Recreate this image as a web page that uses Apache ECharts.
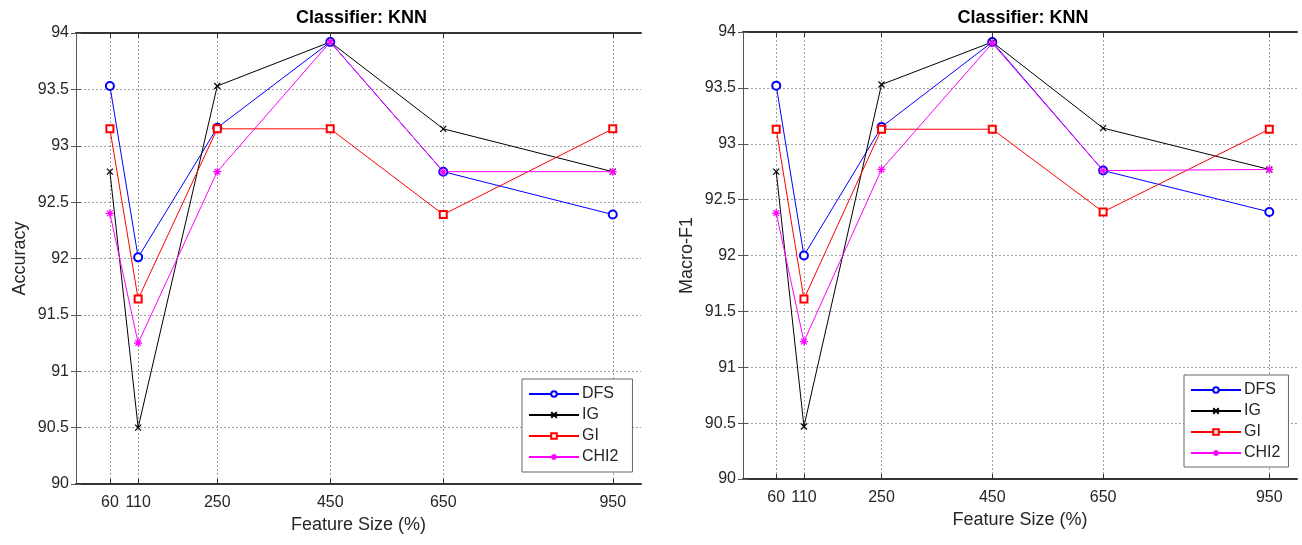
<!DOCTYPE html>
<html>
<head>
<meta charset="utf-8">
<script src="https://cdn.jsdelivr.net/npm/echarts@6/dist/echarts.min.js"></script>
<style>
html,body{margin:0;padding:0;background:#fff;}
#c{width:1302px;height:545px;}
</style>
</head>
<body>
<div id="c"></div>
<script>
// ---- data ----
const featureSizes = [60, 110, 250, 450, 650, 950];
const seriesNames = ['DFS', 'IG', 'GI', 'CHI2'];
const yTicks = [90, 90.5, 91, 91.5, 92, 92.5, 93, 93.5, 94];

const accDFS  = [93.53, 92.01, 93.16, 93.92, 92.77, 92.39];
const accIG   = [92.77, 90.50, 93.53, 93.92, 93.15, 92.77];
const accGI   = [93.15, 91.64, 93.15, 93.15, 92.39, 93.15];
const accCHI2 = [92.40, 91.25, 92.77, 93.92, 92.77, 92.77];

const f1DFS  = [93.52, 92.00, 93.15, 93.91, 92.76, 92.39];
const f1IG   = [92.75, 90.47, 93.53, 93.91, 93.14, 92.77];
const f1GI   = [93.13, 91.61, 93.13, 93.13, 92.39, 93.13];
const f1CHI2 = [92.38, 91.23, 92.77, 93.90, 92.76, 92.77];

const titleText = 'Classifier: KNN';
const xName = 'Feature Size (%)';
const yNames = ['Accuracy', 'Macro-F1'];

// ---- styles ----
const FONT = '"Liberation Sans", Arial, sans-serif';
const TXT = '#262626';
const colors = {DFS: '#0000ff', IG: '#000000', GI: '#ff0000', CHI2: '#ff00ff'};
const symbols = {
  DFS: 'emptyCircle',
  IG: 'path://M0,0L10,10M10,0L0,10',
  GI: 'emptyRect',
  CHI2: 'path://M5,0L5,10M0,5L10,5M1.5,1.5L8.5,8.5M8.5,1.5L1.5,8.5'
};
const symSizes = {DFS: 8, IG: 6, GI: 7, CHI2: 8};

const grids = [
  {left: 76, top: 33, width: 565, height: 451},
  {left: 743, top: 32, width: 554, height: 447}
];

function pairs(vals){ return featureSizes.map((x,i)=>[x, vals[i]]); }

const xAxes = [], yAxes = [], series = [], titles = [], legends = [];
const gridLine = {show: true, lineStyle: {color: '#a0a0a0', type: [2, 2], width: 1}};

grids.forEach((g, gi) => {
  xAxes.push({
    gridIndex: gi, type: 'value', min: 0, max: 1000, position: 'bottom',
    name: xName, nameLocation: 'middle', nameGap: 31,
    nameTextStyle: {fontFamily: FONT, fontSize: 18, color: TXT},
    axisLine: {show: true, lineStyle: {color: '#333', width: 2}},
    axisTick: {show: true, inside: true, length: 5, customValues: featureSizes, lineStyle: {color: '#333'}},
    axisLabel: {customValues: featureSizes, fontFamily: FONT, fontSize: 16, color: TXT, margin: 11},
    splitLine: gridLine
  });
  xAxes.push({
    gridIndex: gi, type: 'value', min: 0, max: 1000, position: 'top',
    axisLine: {show: true, lineStyle: {color: '#333', width: 2}},
    axisTick: {show: true, inside: true, length: 5, customValues: featureSizes, lineStyle: {color: '#333'}},
    axisLabel: {show: false}, splitLine: {show: false}
  });
  yAxes.push({
    gridIndex: gi, type: 'value', min: 90, max: 94, interval: 0.5, position: 'left',
    name: yNames[gi], nameLocation: 'middle', nameGap: 47, nameRotate: 90,
    nameTextStyle: {fontFamily: FONT, fontSize: 18, color: TXT},
    axisLine: {show: true, lineStyle: {color: '#555', width: 1}},
    axisTick: {show: true, inside: true, length: 5, lineStyle: {color: '#555'}},
    axisLabel: {fontFamily: FONT, fontSize: 16, color: TXT, margin: 7},
    splitLine: gridLine
  });
  yAxes.push({
    gridIndex: gi, type: 'value', min: 90, max: 94, interval: 0.5, position: 'right',
    axisLine: {show: true, lineStyle: {color: '#555', width: 1}},
    axisTick: {show: true, inside: true, length: 5, lineStyle: {color: '#555'}},
    axisLabel: {show: false}, splitLine: {show: false}
  });
  titles.push({
    text: titleText, left: g.left + g.width / 2 - 2, top: 4, textAlign: 'center',
    textStyle: {fontFamily: FONT, fontSize: 18, fontWeight: 'bold', color: '#000'}
  });
});

const dataSets = [
  {DFS: accDFS, IG: accIG, GI: accGI, CHI2: accCHI2},
  {DFS: f1DFS, IG: f1IG, GI: f1GI, CHI2: f1CHI2}
];

dataSets.forEach((ds, gi) => {
  seriesNames.forEach(n => {
    series.push({
      name: n, type: 'line', xAxisIndex: gi * 2, yAxisIndex: gi * 2,
      data: pairs(ds[n]),
      symbol: symbols[n], symbolSize: symSizes[n], showAllSymbol: true,
      lineStyle: {color: colors[n], width: 1},
      itemStyle: {color: colors[n], borderColor: colors[n], borderWidth: 1.2},
      emphasis: {disabled: true},
      animation: false, z: 3
    });
  });
});

const legendBase = {
  data: seriesNames, orient: 'vertical',
  backgroundColor: '#fff', borderColor: '#666', borderWidth: 1,
  itemWidth: 50, itemHeight: 7, itemGap: 5,
  textStyle: {fontFamily: FONT, fontSize: 16, color: TXT, padding: [0,0,0,-2]},
  selectedMode: false
};
legends.push(Object.assign({}, legendBase, {left: 522, top: 379, padding: [7, 14, 7, 6]}));
legends.push(Object.assign({}, legendBase, {left: 1184, top: 375, padding: [7, 8, 6, 6]}));

const chart = echarts.init(document.getElementById('c'));
chart.setOption({
  animation: false,
  backgroundColor: '#fff',
  title: titles,
  grid: grids.map(g => Object.assign({containLabel: false}, g)),
  xAxis: xAxes,
  yAxis: yAxes,
  legend: legends,
  series: series
});
</script>
</body>
</html>
